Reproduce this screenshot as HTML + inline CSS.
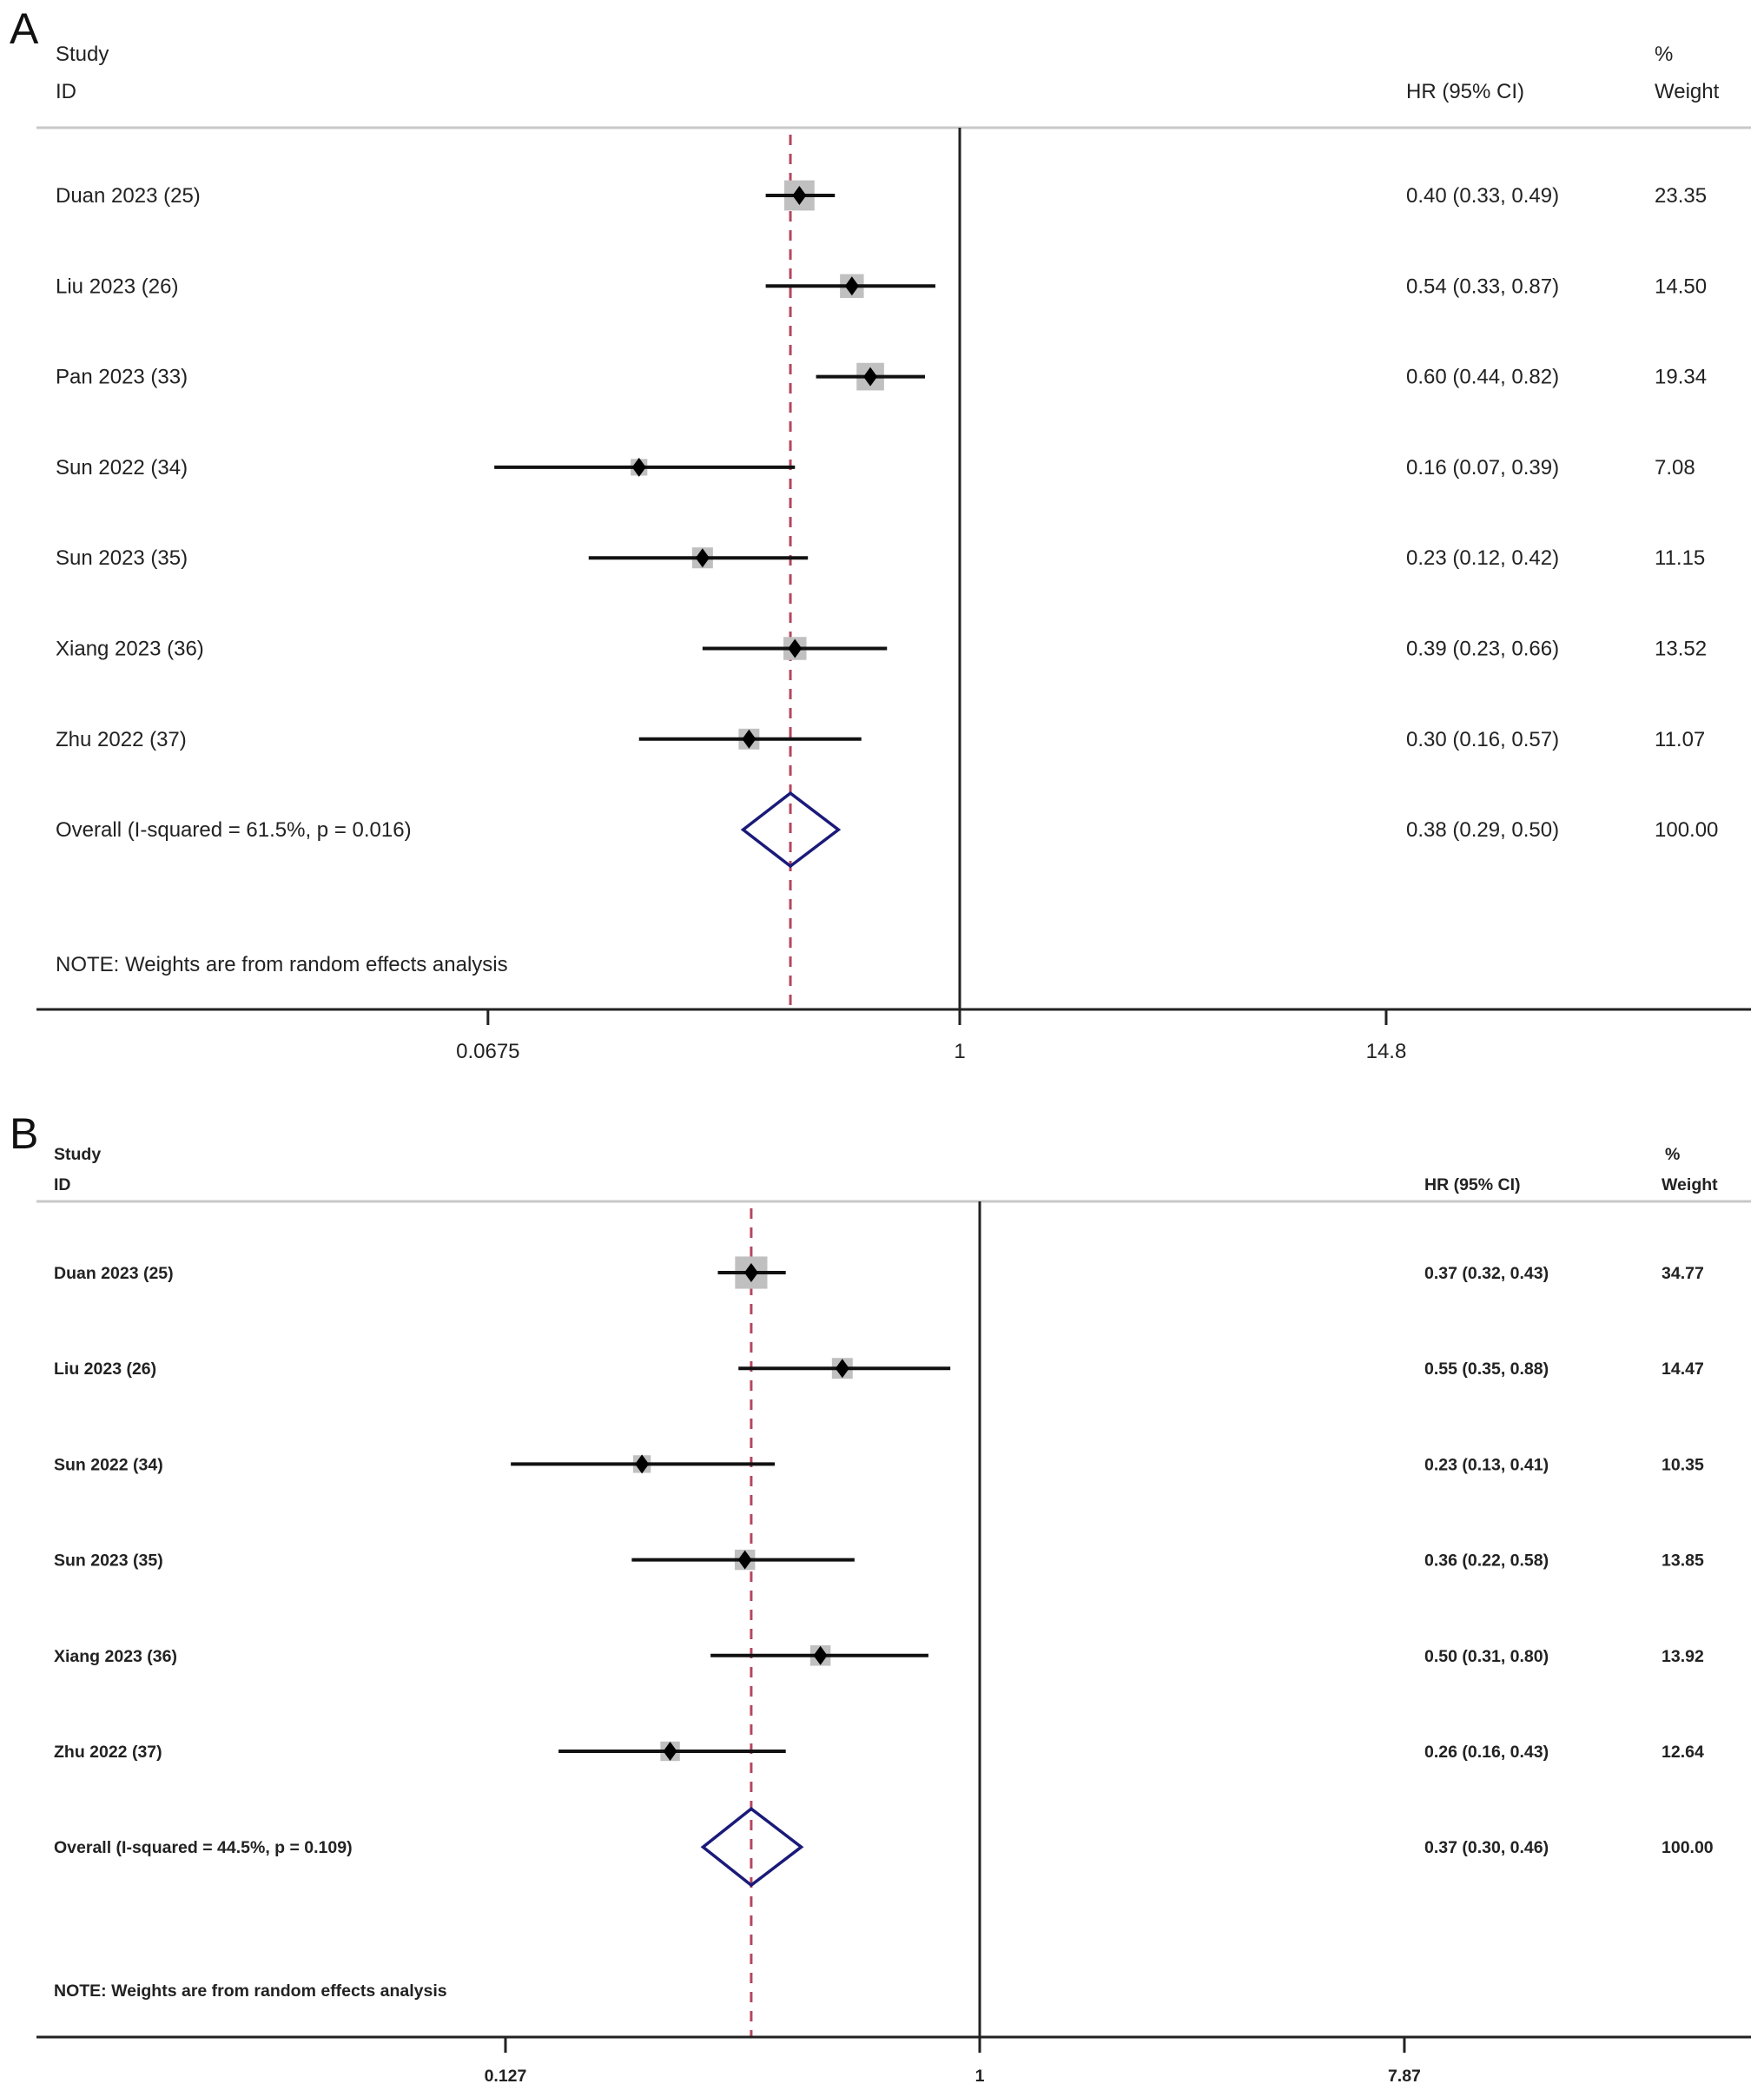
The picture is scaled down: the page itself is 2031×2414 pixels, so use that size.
<!DOCTYPE html>
<html><head><meta charset="utf-8"><style>
html,body{margin:0;padding:0;background:#fff}
svg{display:block}
text{font-family:"Liberation Sans",sans-serif;fill:#222}
</style></head><body>
<svg id="chart" width="2031" height="2414" viewBox="0 0 2031 2414" xmlns="http://www.w3.org/2000/svg">
<g id="panelA"></g>
<g id="panelB"></g>
</svg>
<script>
const studiesA = ["Duan 2023 (25)","Liu 2023 (26)","Pan 2023 (33)","Sun 2022 (34)","Sun 2023 (35)","Xiang 2023 (36)","Zhu 2022 (37)"];
const hrA = [0.40,0.54,0.60,0.16,0.23,0.39,0.30];
const lowA = [0.33,0.33,0.44,0.07,0.12,0.23,0.16];
const highA = [0.49,0.87,0.82,0.39,0.42,0.66,0.57];
const weightA = [23.35,14.50,19.34,7.08,11.15,13.52,11.07];
const overallA = [0.38,0.29,0.50];
const overallLabelA = "Overall  (I-squared = 61.5%, p = 0.016)";
const ticksA = [0.0675,1,14.8];
const tickLabelsA = ["0.0675","1","14.8"];

const studiesB = ["Duan 2023 (25)","Liu 2023 (26)","Sun 2022 (34)","Sun 2023 (35)","Xiang 2023 (36)","Zhu 2022 (37)"];
const hrB = [0.37,0.55,0.23,0.36,0.50,0.26];
const lowB = [0.32,0.35,0.13,0.22,0.31,0.16];
const highB = [0.43,0.88,0.41,0.58,0.80,0.43];
const weightB = [34.77,14.47,10.35,13.85,13.92,12.64];
const overallB = [0.37,0.30,0.46];
const overallLabelB = "Overall  (I-squared = 44.5%, p = 0.109)";
const ticksB = [0.127,1,7.87];
const tickLabelsB = ["0.127","1","7.87"];

const NS="http://www.w3.org/2000/svg";
function mk(parent,tag,attrs,txt){const e=document.createElementNS(NS,tag);for(const k in attrs)e.setAttribute(k,attrs[k]);if(txt!==undefined)e.textContent=txt;parent.appendChild(e);return e;}
function fmt(v){return v.toFixed(2);}

function drawPanel(g,cfg){
  const xs=v=>{const l=Math.log(v);return cfg.x1+l*(l>0?cfg.ppuR:cfg.ppu);};
  const fs=cfg.fs, fw=cfg.fw;
  let t;
  t=mk(g,'text',{x:cfg.letterX,y:cfg.letterY,'font-size':50,style:'fill:#111'},cfg.letter);
  
  
  const hdr=[[cfg.textX,cfg.studyY,'Study','header-study'],[cfg.textX,cfg.idY,'ID','header-id'],[cfg.hrX,cfg.idY,'HR (95% CI)','header-hr'],[cfg.wX+cfg.pctDx,cfg.studyY,'%','header-percent'],[cfg.wX,cfg.idY,'Weight','header-weight']];
  hdr.forEach(h=>{t=mk(g,'text',{x:h[0],y:h[1],'font-size':fs,'font-weight':fw},h[2]);
    
    });
  let l=mk(g,'line',{x1:42,x2:2016,y1:cfg.hdrLineY,y2:cfg.hdrLineY,stroke:'#c8c8c8','stroke-width':3});
  
  
  l=mk(g,'line',{x1:xs(1),x2:xs(1),y1:cfg.hdrLineY,y2:cfg.axisY,stroke:'#222','stroke-width':3});
  
  
  const ox=xs(cfg.overall[0]);
  l=mk(g,'line',{x1:ox,x2:ox,y1:cfg.hdrLineY+8,y2:cfg.axisY,stroke:'#b4475e','stroke-width':3,'stroke-dasharray':'12 10'});
  
  
  l=mk(g,'line',{x1:42,x2:2016,y1:cfg.axisY,y2:cfg.axisY,stroke:'#222','stroke-width':3});
  
  
  cfg.ticks.forEach((tv,i)=>{
    const x=xs(tv);
    l=mk(g,'line',{x1:x,x2:x,y1:cfg.axisY,y2:cfg.axisY+18,stroke:'#222','stroke-width':3});
    
    
    t=mk(g,'text',{x:x,y:cfg.tickLabelY,'font-size':fs,'font-weight':fw,'text-anchor':'middle'},cfg.tickLabels[i]);
    
    
  });
  cfg.studies.forEach((s,i)=>{
    const y=cfg.rowY0+i*cfg.rowStep;
    t=mk(g,'text',{x:cfg.textX,y:y+cfg.baseOff,'font-size':fs,'font-weight':fw},s);
    
    
    const side=cfg.k*Math.sqrt(cfg.w[i]);
    const cx=xs(cfg.hr[i]);
    let r=mk(g,'rect',{x:cx-side/2,y:y-side/2,width:side,height:side,fill:'#c0c0c0'});
    
    
    l=mk(g,'line',{x1:xs(cfg.lo[i]),x2:xs(cfg.hi[i]),y1:y,y2:y,stroke:'#111','stroke-width':4});
    
    
    let p=mk(g,'polygon',{points:`${cx-8},${y} ${cx},${y-11} ${cx+8},${y} ${cx},${y+11}`,fill:'#000'});
    
    
    t=mk(g,'text',{x:cfg.hrX,y:y+cfg.baseOff,'font-size':fs,'font-weight':fw},`${fmt(cfg.hr[i])} (${fmt(cfg.lo[i])}, ${fmt(cfg.hi[i])})`);
    
    
    t=mk(g,'text',{x:cfg.wX,y:y+cfg.baseOff,'font-size':fs,'font-weight':fw},fmt(cfg.w[i]));
    
    
  });
  const oy=cfg.rowY0+cfg.studies.length*cfg.rowStep;
  t=mk(g,'text',{x:cfg.textX,y:oy+cfg.baseOff,'font-size':fs,'font-weight':fw,'xml:space':'preserve'},cfg.overallLabel);
  
  
  const dl=xs(cfg.overall[1]),dr=xs(cfg.overall[2]);
  let d=mk(g,'polygon',{points:`${dl},${oy} ${ox},${oy-cfg.dh} ${dr},${oy} ${ox},${oy+cfg.dh}`,fill:'none',stroke:'#1a1a7a','stroke-width':3.5});
  
  
  t=mk(g,'text',{x:cfg.hrX,y:oy+cfg.baseOff,'font-size':fs,'font-weight':fw},`${fmt(cfg.overall[0])} (${fmt(cfg.overall[1])}, ${fmt(cfg.overall[2])})`);
  
  
  t=mk(g,'text',{x:cfg.wX,y:oy+cfg.baseOff,'font-size':fs,'font-weight':fw},'100.00');
  
  
  t=mk(g,'text',{x:cfg.textX,y:cfg.noteY,'font-size':fs,'font-weight':fw},'NOTE: Weights are from random effects analysis');
  
  
}

drawPanel(document.getElementById('panelA'),{
  letter:'A',letterX:11,letterY:50,x1:1105,ppu:201.5,ppuR:182.2,fs:24,fw:'normal',
  textX:64,studyY:70,idY:113,hrX:1619,wX:1905,pctDx:0,hdrLineY:147,axisY:1162,tickLabelY:1218,
  rowY0:225,rowStep:104.3,baseOff:8,k:7.2,dh:42,noteY:1118,
  studies:studiesA,hr:hrA,lo:lowA,hi:highA,w:weightA,overall:overallA,overallLabel:overallLabelA,
  ticks:ticksA,tickLabels:tickLabelsA});
drawPanel(document.getElementById('panelB'),{
  letter:'B',letterX:11,letterY:1322,x1:1128,ppu:264.6,ppuR:237,fs:19.5,fw:'bold',
  textX:62,studyY:1335,idY:1370,hrX:1640,wX:1913,pctDx:4,hdrLineY:1383,axisY:2345,tickLabelY:2396,
  rowY0:1465,rowStep:110.2,baseOff:7,k:6.3,dh:44,noteY:2298,
  studies:studiesB,hr:hrB,lo:lowB,hi:highB,w:weightB,overall:overallB,overallLabel:overallLabelB,
  ticks:ticksB,tickLabels:tickLabelsB});
</script>
</body></html>
